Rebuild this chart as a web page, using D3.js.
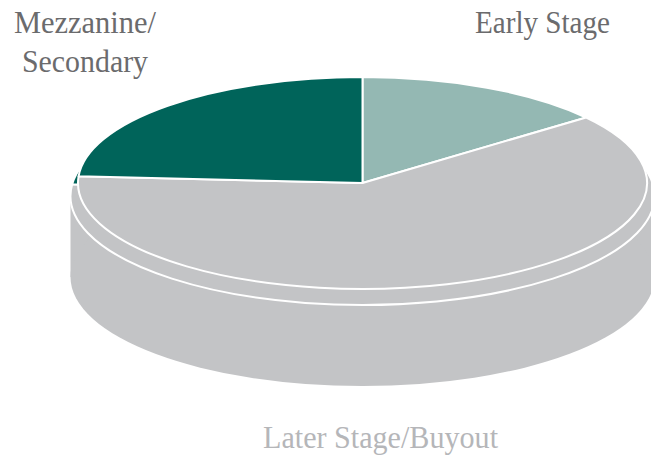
<!DOCTYPE html>
<html><head><meta charset="utf-8">
<script src="https://cdn.jsdelivr.net/npm/d3@7/dist/d3.min.js"></script>
<style>html,body{margin:0;padding:0;background:#fff;overflow:hidden}svg{display:block}</style>
</head><body><svg id="c" width="651" height="455"></svg>
<script>
const categories = ["Early Stage", "Later Stage/Buyout", "Mezzanine/Secondary"];
const values = [14.4, 61.6, 24.0];
const colors = ["#94b8b3", "#c3c4c6", "#00645a"];
const labelLines = [["Early Stage"], ["Later Stage/Buyout"], ["Mezzanine/", "Secondary"]];
const labelColors = ["#6b6b6d", "#b5b6b9", "#6b6b6d"];
const labelAnchors = [[542.5, 33], [380.5, 448], [85, 33]];
const labelWidths = [[135], [235], [142, 126]];

const svg = d3.select("#c");
const pie = d3.pie().sort(null).value(d => d)(values);
const cx = 362.5;
const layers = [
  {cy: 196, rx: 292, ry: 109, rotate: 0.045},
  {cy: 183, rx: 284.5, ry: 106, rotate: 0}
];
const depth = 81;
const base = layers[0];

// extruded body of the disc
svg.append("rect").attr("x", cx - base.rx).attr("y", base.cy)
  .attr("width", base.rx * 2).attr("height", depth).attr("fill", colors[1]);
svg.append("ellipse").attr("cx", cx).attr("cy", base.cy + depth)
  .attr("rx", base.rx).attr("ry", base.ry).attr("fill", colors[1]);

layers.forEach(l => {
  const arc = d3.arc().innerRadius(0).outerRadius(l.rx)
    .startAngle(d => d.startAngle + l.rotate)
    .endAngle(d => d.endAngle + l.rotate);
  svg.append("g")
    .attr("transform", `translate(${cx},${l.cy}) scale(1,${l.ry / l.rx})`)
    .selectAll("path").data(pie).join("path")
    .attr("d", arc)
    .attr("fill", (d, i) => colors[i])
    .attr("stroke", "#fff")
    .attr("stroke-width", 2)
    .attr("stroke-linejoin", "round")
    .attr("vector-effect", "non-scaling-stroke");
});

categories.forEach((c, i) => {
  labelLines[i].forEach((t, j) => {
    svg.append("text")
      .attr("x", labelAnchors[i][0])
      .attr("y", labelAnchors[i][1] + j * 39)
      .attr("text-anchor", "middle")
      .attr("font-family", "'Liberation Serif', serif")
      .attr("font-size", 31)
      .attr("fill", labelColors[i])
      .attr("textLength", labelWidths[i][j])
      .attr("lengthAdjust", "spacingAndGlyphs")
      .text(t);
  });
});
</script></body></html>
